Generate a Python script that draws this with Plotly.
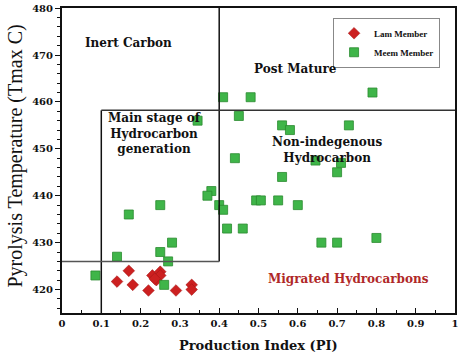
import plotly.graph_objects as go

# Data
lam_pi = [0.17, 0.14, 0.18, 0.22, 0.23, 0.25, 0.24, 0.25, 0.236, 0.29, 0.33, 0.33]
lam_tmax = [424, 421.7, 421, 419.8, 423, 423.8, 422, 423, 422.3, 419.8, 421, 420]

meem_pi = [0.085, 0.14, 0.17, 0.25, 0.28, 0.25, 0.27, 0.26, 0.345, 0.41, 0.48, 0.45,
           0.56, 0.58, 0.44, 0.645, 0.56, 0.38, 0.37, 0.40, 0.41, 0.494, 0.506, 0.55,
           0.60, 0.42, 0.46, 0.66, 0.70, 0.80, 0.79, 0.73, 0.71, 0.70]
meem_tmax = [423, 427, 436, 438, 430, 428, 426, 421, 456, 461, 461, 457,
             455, 454, 448, 447.5, 444, 441, 440, 438, 437, 439, 439, 439,
             438, 433, 433, 430, 430, 431, 462, 455, 447, 445]

x_ticks = [0, 0.1, 0.2, 0.3, 0.4, 0.5, 0.6, 0.7, 0.8, 0.9, 1]
x_tick_text = ["0", "0.1", "0.2", "0.3", "0.4", "0.5", "0.6", "0.7", "0.8", "0.9", "1"]
y_ticks = [420, 430, 440, 450, 460, 470, 480]

# Region boundaries (data units)
pi_low, pi_mid = 0.1, 0.4
t_low, t_high = 426, 458.2

SERIF = "Liberation Serif"
WIDE = "DejaVu Serif"
INK = "#111111"

fig = go.Figure()
fig.add_trace(go.Scatter(
    x=lam_pi, y=lam_tmax, mode="markers", name="Lam Member",
    marker=dict(symbol="diamond", size=9, color="#cc2020",
                line=dict(color="#a01515", width=0.5))))
fig.add_trace(go.Scatter(
    x=meem_pi, y=meem_tmax, mode="markers", name="Meem Member",
    marker=dict(symbol="square", size=9, color="#3fb549",
                line=dict(color="#2a8a2e", width=0.8))))

line_black = dict(color=INK, width=1.5)
shapes = [
    dict(type="line", x0=pi_mid, x1=pi_mid, y0=t_low, y1=480, line=line_black),
    dict(type="line", x0=pi_low, x1=pi_low, y0=415, y1=t_high, line=line_black),
    dict(type="line", x0=pi_low, x1=1, y0=t_high, y1=t_high, line=dict(color="#333333", width=1.5)),
    dict(type="line", x0=0, x1=pi_mid, y0=t_low, y1=t_low, line=dict(color="#555555", width=1.5)),
]

region_font = dict(family=WIDE, size=12, color=INK, weight="bold")
annotations = [
    dict(x=0.17, y=472.5, text="Inert Carbon", showarrow=False, font=region_font),
    dict(x=0.595, y=467, text="Post Mature", showarrow=False, font=region_font),
    dict(x=0.235, y=453.3, text="Main stage of<br>Hydrocarbon<br>generation", showarrow=False,
         font=region_font),
    dict(x=0.675, y=449.8, text="Non-indegenous<br>Hydrocarbon", showarrow=False, font=region_font),
    dict(x=0.73, y=422.3, text="Migrated Hydrocarbons", showarrow=False,
         font=dict(family=WIDE, size=12, color="#b02828", weight="bold")),
    dict(xref="paper", yref="paper", x=0.5, y=0, yshift=-32, xanchor="center", yanchor="middle",
         text="Production Index (PI)", showarrow=False,
         font=dict(family=WIDE, size=13, color=INK, weight="bold")),
    dict(xref="paper", yref="paper", x=0, xshift=-47, y=0.5, yshift=4, xanchor="center",
         yanchor="middle", text="Pyrolysis Temperature (Tmax C)",
         textangle=-90, showarrow=False, font=dict(family=SERIF, size=20, color=INK)),
]

tick_font = dict(family=WIDE, size=10, color=INK, weight="bold")

fig.update_layout(
    width=461, height=353,
    margin=dict(l=62, r=3, t=5, b=40),
    plot_bgcolor="white", paper_bgcolor="white",
    shapes=shapes, annotations=annotations,
    showlegend=True,
    legend=dict(x=0.962, y=0.968, xanchor="right", yanchor="top",
                bgcolor="white", bordercolor="#888888", borderwidth=1,
                font=dict(family=SERIF, size=9, color=INK, weight="bold"),
                itemsizing="trace", tracegroupgap=0, itemwidth=30),
    xaxis=dict(range=[0, 1], tickvals=x_ticks, ticktext=x_tick_text,
               showgrid=False, zeroline=False, showline=True, linecolor=INK, linewidth=2,
               mirror=True, ticks="inside", ticklen=5, tickcolor=INK,
               minor=dict(tickvals=[0.05, 0.15, 0.25, 0.35, 0.45, 0.55, 0.65, 0.75, 0.85, 0.95],
                          ticks="inside", ticklen=3, tickcolor=INK),
               tickfont=tick_font, ticklabeloverflow="allow"),
    yaxis=dict(range=[415, 480.02], tickvals=y_ticks,
               showgrid=False, zeroline=False, showline=True, linecolor=INK, linewidth=2,
               mirror=True, ticks="outside", ticklen=5, tickcolor=INK,
               minor=dict(dtick=2, ticks="outside", ticklen=3, tickcolor=INK),
               tickfont=tick_font, ticklabeloverflow="allow"),
)

fig.write_html("out.html")
